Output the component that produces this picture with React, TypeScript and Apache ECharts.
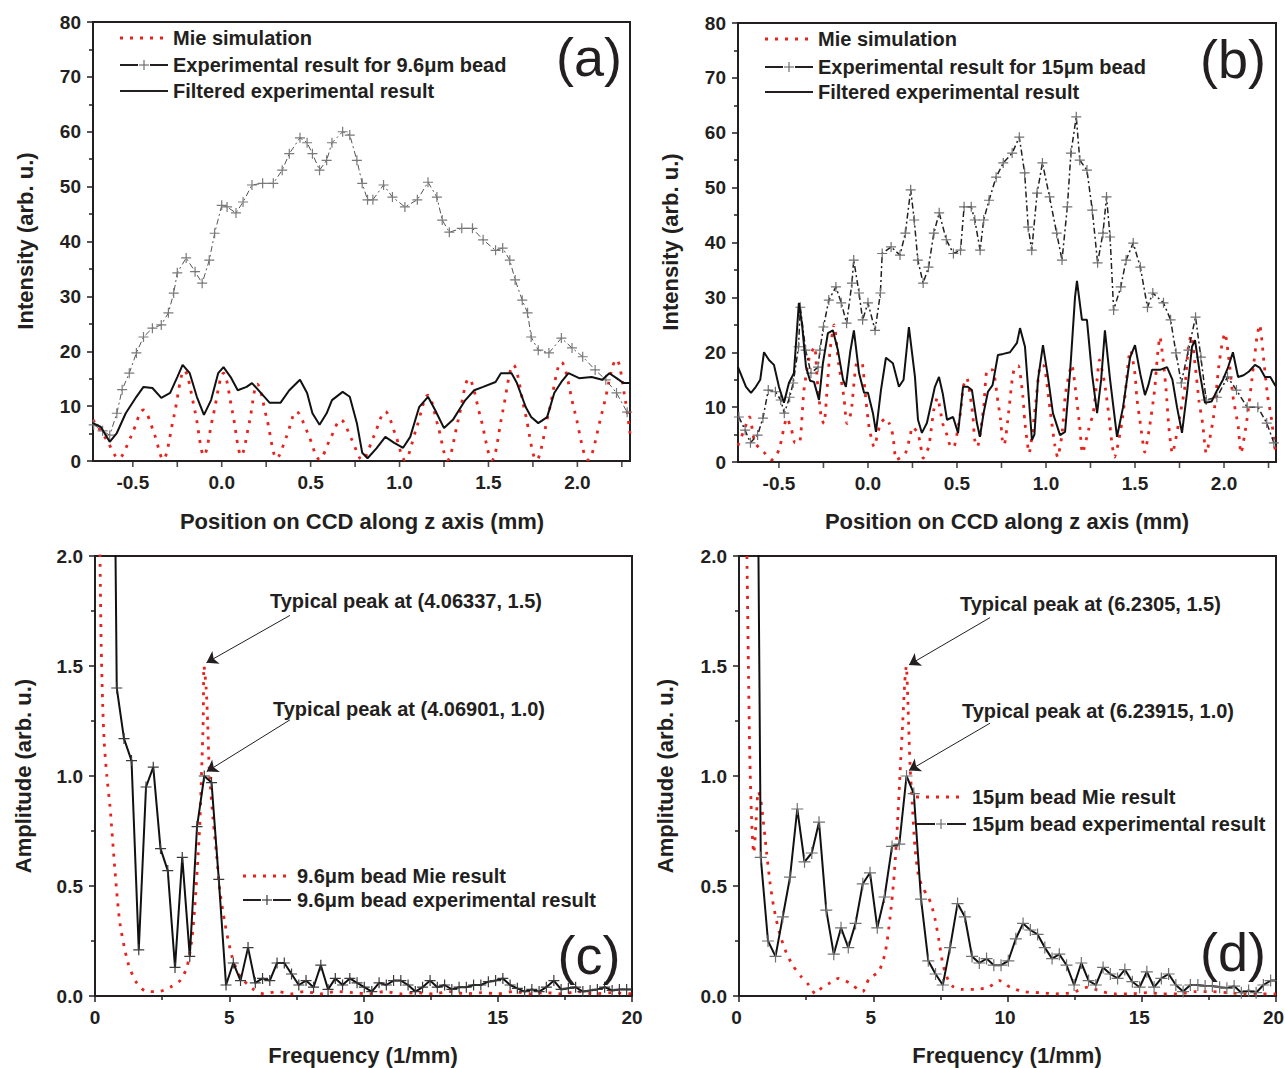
import React, { useEffect, useRef } from "react";
import * as echarts from "echarts";

const FONT = "'Liberation Sans', Arial, Helvetica, sans-serif";
const INK = "#231f20";
const RED = "#e8231d";
const GRAY = "#707070";
const PLUS = "path://M0,5L10,5M5,0L5,10";

// ---------- Panel (a): 9.6 um bead, intensity vs position (mm) ----------
const A_MIE: number[][] = [
  [-0.724, 7.5], [-0.65, 4], [-0.58, 0.5], [-0.51, 4.5], [-0.44, 9.3], [-0.38, 5], [-0.33, 0.3],
  [-0.27, 8], [-0.21, 16.5], [-0.15, 9], [-0.1, 1], [-0.05, 8], [0.01, 16], [0.06, 9], [0.11, 1],
  [0.155, 7], [0.2, 14], [0.255, 7.5], [0.31, 0.5], [0.365, 4.5], [0.42, 9], [0.485, 5], [0.55, 0.3],
  [0.61, 4], [0.67, 7.5], [0.73, 4], [0.79, 0.2], [0.855, 4.5], [0.92, 9], [0.975, 5], [1.03, 0.2],
  [1.095, 6], [1.16, 12], [1.215, 6.5], [1.27, 0.2], [1.33, 7.5], [1.39, 15], [1.455, 8], [1.52, 0.2],
  [1.58, 9], [1.64, 17.5], [1.705, 9], [1.77, 0.2], [1.84, 9], [1.91, 18], [1.985, 9], [2.06, 0.2],
  [2.14, 9], [2.22, 18.5], [2.27, 11], [2.296, 5],
];
const A_EXP: number[][] = [
  [-0.72, 6.6], [-0.67, 5.5], [-0.63, 4.7], [-0.59, 8.7], [-0.56, 13], [-0.52, 16], [-0.48, 19.7],
  [-0.44, 22.6], [-0.39, 24.2], [-0.34, 24.8], [-0.3, 27], [-0.27, 30.6], [-0.25, 34.3], [-0.2, 37],
  [-0.15, 34.5], [-0.11, 32.4], [-0.07, 36.6], [-0.04, 41.5], [0, 46.6], [0.03, 46.3], [0.08, 45.2],
  [0.12, 47.2], [0.17, 50.3], [0.23, 50.6], [0.29, 50.6], [0.34, 53], [0.38, 56], [0.44, 58.9],
  [0.48, 58], [0.51, 56], [0.55, 53], [0.59, 54.8], [0.62, 58], [0.68, 60], [0.72, 59.4], [0.76, 54.8],
  [0.79, 50.6], [0.82, 47.6], [0.85, 47.6], [0.91, 50.3], [0.96, 48.1], [1.03, 46.3], [1.1, 47.6],
  [1.16, 50.8], [1.21, 48.1], [1.24, 43.9], [1.28, 41.7], [1.35, 42.4], [1.41, 42.4], [1.47, 40.3],
  [1.54, 38.4], [1.58, 38.8], [1.62, 36.6], [1.65, 33], [1.69, 29.3], [1.72, 27], [1.74, 22.6],
  [1.78, 20.2], [1.84, 19.7], [1.91, 22.4], [1.97, 20.6], [2.03, 19], [2.1, 16.6], [2.16, 14.8],
  [2.22, 12.4], [2.28, 8.9],
];
const A_FILT: number[][] = [
  [-0.724, 6.9], [-0.68, 6.2], [-0.63, 3.5], [-0.59, 5.1], [-0.54, 8.7], [-0.48, 11.7], [-0.44, 13.5],
  [-0.39, 13.3], [-0.34, 11.5], [-0.29, 12.4], [-0.25, 15.3], [-0.22, 17.5], [-0.18, 16], [-0.14, 11.7],
  [-0.1, 8.4], [-0.06, 11.1], [-0.02, 16], [0.01, 17.1], [0.05, 15.3], [0.09, 12.9], [0.14, 13.5],
  [0.17, 14.2], [0.22, 12.4], [0.27, 10.6], [0.33, 10.6], [0.38, 12.9], [0.44, 14.8], [0.48, 12.4],
  [0.51, 8.7], [0.55, 6.6], [0.59, 8.7], [0.62, 11.1], [0.68, 12.6], [0.72, 11.7], [0.76, 6.9],
  [0.79, 1.5], [0.82, 0.5], [0.87, 2.3], [0.92, 4.4], [0.97, 3.3], [1.02, 2.4], [1.06, 4.4], [1.11, 9.8],
  [1.16, 11.7], [1.2, 9.3], [1.25, 6], [1.3, 7.5], [1.37, 11.1], [1.42, 12.9], [1.47, 13.5], [1.54, 14.4],
  [1.57, 16], [1.63, 16], [1.66, 14.2], [1.71, 9.8], [1.74, 8], [1.78, 6.9], [1.83, 8], [1.87, 12.4],
  [1.91, 14.4], [1.95, 16], [2.01, 15.1], [2.08, 15.3], [2.14, 14.8], [2.18, 16], [2.22, 15.1],
  [2.26, 14.2], [2.296, 14.2],
];

// ---------- Panel (b): 15 um bead ----------
const B_MIE: number[][] = [
  [-0.73, 3], [-0.7, 5.5], [-0.665, 8.2], [-0.635, 3.5], [-0.585, 1.8], [-0.54, 0.4], [-0.5, 2.2],
  [-0.455, 8], [-0.43, 6], [-0.41, 3.5], [-0.385, 3.5], [-0.36, 13], [-0.33, 19], [-0.3, 21],
  [-0.285, 15], [-0.262, 8], [-0.247, 7], [-0.23, 13], [-0.213, 20.4], [-0.19, 25], [-0.165, 18],
  [-0.135, 11.8], [-0.118, 7], [-0.095, 9], [-0.062, 18], [-0.034, 18], [-0.017, 13], [0.006, 6.4],
  [0.034, 2.8], [0.07, 7], [0.1, 8], [0.12, 7], [0.14, 4.9], [0.16, 0.4], [0.21, 1.6], [0.236, 4.6],
  [0.25, 6.4], [0.28, 5.3], [0.295, 3.1], [0.31, 0.7], [0.34, 2.6], [0.35, 4.6], [0.37, 9.5],
  [0.39, 11.7], [0.42, 7], [0.44, 5.3], [0.46, 3.1], [0.48, 2.6], [0.52, 9.1], [0.535, 13.7],
  [0.555, 15.3], [0.58, 10.8], [0.59, 8.2], [0.6, 4], [0.615, 2.8], [0.65, 10], [0.67, 16.8],
  [0.7, 16.8], [0.73, 11], [0.745, 7.7], [0.755, 4], [0.765, 3.1], [0.79, 9], [0.81, 15], [0.825, 17.3],
  [0.845, 17.5], [0.87, 12], [0.88, 7.7], [0.895, 3.5], [0.905, 1.6], [0.94, 10], [0.97, 17.7],
  [0.99, 17.5], [1.01, 13], [1.03, 7.7], [1.05, 3], [1.065, 0.9], [1.09, 5], [1.11, 12.6], [1.145, 17.7],
  [1.17, 12], [1.19, 6.4], [1.205, 1.6], [1.24, 6], [1.265, 8.9], [1.287, 15], [1.3, 18.6], [1.32, 16],
  [1.335, 13.1], [1.355, 8], [1.37, 3.5], [1.385, 0.9], [1.43, 8], [1.465, 19], [1.475, 20.4], [1.5, 16],
  [1.51, 11.8], [1.53, 7], [1.555, 1.8], [1.58, 6], [1.61, 13.1], [1.625, 19], [1.64, 22.8], [1.66, 18],
  [1.675, 13], [1.69, 6.4], [1.71, 1.6], [1.75, 8], [1.78, 13.7], [1.8, 21], [1.815, 23.1], [1.84, 17],
  [1.86, 11], [1.88, 7], [1.9, 1.6], [1.94, 8], [1.97, 17.3], [1.99, 21.7], [2.005, 23.5], [2.03, 18],
  [2.05, 12], [2.08, 6.4], [2.095, 1.6], [2.13, 8], [2.165, 17.3], [2.185, 22.8], [2.2, 25], [2.225, 18],
  [2.245, 12], [2.265, 8.2], [2.285, 2.8], [2.292, 1.5],
];
const B_EXP: number[][] = [
  [-0.725, 8.2], [-0.69, 5.8], [-0.66, 3.5], [-0.62, 4.9], [-0.59, 8], [-0.56, 13.1], [-0.52, 12.8],
  [-0.49, 11.3], [-0.47, 8.9], [-0.44, 11.8], [-0.42, 14.4], [-0.39, 21], [-0.38, 28.2], [-0.35, 20.4],
  [-0.32, 16.2], [-0.28, 17.3], [-0.27, 20.4], [-0.25, 24.6], [-0.22, 29.5], [-0.18, 31.9], [-0.15, 29],
  [-0.12, 25.3], [-0.09, 32.6], [-0.08, 36.8], [-0.05, 30.8], [-0.03, 25.9], [0, 29], [0.04, 24],
  [0.07, 30.8], [0.08, 38], [0.13, 39.2], [0.18, 37.7], [0.21, 41.7], [0.24, 49.6], [0.26, 44.1],
  [0.28, 36.8], [0.31, 32.6], [0.34, 35.5], [0.37, 41.7], [0.4, 45.4], [0.44, 40.5], [0.48, 38],
  [0.52, 38.6], [0.54, 46.5], [0.58, 46.5], [0.6, 44.1], [0.63, 38.6], [0.65, 44.1], [0.68, 47.7],
  [0.72, 51.9], [0.76, 54.5], [0.81, 56.3], [0.85, 59.2], [0.88, 52.7], [0.9, 42.8], [0.92, 38.6],
  [0.95, 49], [0.98, 54.5], [1.02, 48.3], [1.06, 41.7], [1.09, 36.8], [1.12, 46.5], [1.14, 56.3],
  [1.17, 62.9], [1.19, 55], [1.23, 53.2], [1.26, 45.9], [1.29, 36.3], [1.32, 41.7], [1.34, 48.3],
  [1.36, 41], [1.38, 27.7], [1.42, 31.9], [1.45, 36.8], [1.49, 39.9], [1.53, 35.5], [1.57, 28.2],
  [1.6, 30.8], [1.66, 29], [1.7, 25.9], [1.73, 19.9], [1.76, 14.4], [1.8, 20.4], [1.84, 26.4],
  [1.87, 19.1], [1.9, 11.3], [1.96, 11.8], [2.02, 15.5], [2.07, 13.1], [2.13, 10], [2.19, 10],
  [2.24, 7.1], [2.28, 3.5],
];
const B_FILT: number[][] = [
  [-0.73, 17.3], [-0.685, 13.7], [-0.657, 12.6], [-0.63, 13.7], [-0.605, 15], [-0.584, 20], [-0.556, 18.6],
  [-0.528, 17.7], [-0.5, 13.7], [-0.472, 10.8], [-0.444, 14.4], [-0.416, 16.2], [-0.388, 29], [-0.37, 25],
  [-0.348, 17.3], [-0.325, 14.8], [-0.303, 14.6], [-0.275, 11.3], [-0.253, 18], [-0.225, 23.5],
  [-0.197, 24], [-0.169, 20.4], [-0.14, 15], [-0.124, 13.7], [-0.1, 20], [-0.079, 24], [-0.05, 16.2],
  [-0.022, 12.6], [0, 12.6], [0.028, 8.9], [0.045, 5.5], [0.073, 13.1], [0.101, 19], [0.14, 18],
  [0.174, 13.7], [0.2, 15], [0.23, 24.6], [0.264, 15.5], [0.281, 7.7], [0.303, 5.3], [0.331, 7.1],
  [0.376, 13.7], [0.399, 15.5], [0.42, 12.5], [0.444, 7.7], [0.478, 8.2], [0.506, 5.3], [0.534, 13.7],
  [0.56, 13.7], [0.584, 13.1], [0.612, 7.1], [0.629, 4.6], [0.65, 9], [0.674, 12.8], [0.7, 14],
  [0.73, 19.5], [0.76, 19.7], [0.798, 20], [0.837, 21.7], [0.854, 24.4], [0.882, 21], [0.899, 13.7],
  [0.921, 4], [0.935, 5], [0.955, 15], [0.983, 21.3], [1.011, 15.5], [1.039, 8.9], [1.079, 4.9],
  [1.107, 5.5], [1.135, 16.2], [1.163, 30], [1.174, 33], [1.202, 25.9], [1.23, 25.9], [1.258, 16.2],
  [1.287, 8.9], [1.31, 15], [1.331, 24], [1.36, 15], [1.399, 4.6], [1.433, 10], [1.472, 19], [1.5, 21.3],
  [1.53, 16], [1.556, 12.2], [1.575, 14], [1.596, 16.8], [1.64, 16.8], [1.68, 17.3], [1.71, 15],
  [1.736, 10], [1.764, 5.3], [1.792, 12.6], [1.82, 21], [1.837, 22.2], [1.865, 16], [1.893, 10.8],
  [1.93, 11], [1.96, 13], [1.994, 15], [2.02, 17], [2.05, 20], [2.079, 15.5], [2.11, 15.8], [2.14, 16.5],
  [2.174, 17.7], [2.2, 17.2], [2.23, 15.5], [2.26, 15.5], [2.287, 14], [2.292, 13.8],
];

// ---------- Panels (c) and (d): spectra, shared frequency grid (1/mm) ----------
const FREQ = [
  0.54, 0.81, 1.08, 1.36, 1.63, 1.9, 2.17, 2.44, 2.71, 2.98, 3.25, 3.53, 3.8, 4.07, 4.34, 4.61, 4.88,
  5.15, 5.42, 5.7, 5.97, 6.24, 6.51, 6.78, 7.05, 7.32, 7.59, 7.86, 8.14, 8.41, 8.68, 8.95, 9.22, 9.49,
  9.76, 10.03, 10.31, 10.58, 10.85, 11.12, 11.39, 11.66, 11.93, 12.2, 12.48, 12.75, 13.02, 13.29, 13.56,
  13.83, 14.1, 14.37, 14.65, 14.92, 15.19, 15.46, 15.73, 16.0, 16.27, 16.54, 16.81, 17.09, 17.36, 17.63,
  17.9, 18.17, 18.44, 18.71, 18.98, 19.26, 19.53, 19.8, 20.07,
];
const C_EXP = [
  5, 1.4, 1.17, 1.07, 0.21, 0.95, 1.04, 0.67, 0.57, 0.13, 0.63, 0.18, 0.77, 1.0, 0.97, 0.53, 0.05,
  0.15, 0.07, 0.22, 0.06, 0.08, 0.07, 0.15, 0.15, 0.1, 0.05, 0.07, 0.04, 0.14, 0.03, 0.08, 0.05, 0.08,
  0.06, 0.04, 0.02, 0.06, 0.05, 0.07, 0.07, 0.05, 0.02, 0.04, 0.07, 0.04, 0.05, 0.03, 0.04, 0.04, 0.05,
  0.05, 0.065, 0.07, 0.08, 0.05, 0.035, 0.02, 0.03, 0.02, 0.04, 0.07, 0.03, 0.035, 0.04, 0.02, 0.025,
  0.03, 0.04, 0.025, 0.03, 0.03, 0.03,
];
const D_EXP = [
  5, 0.63, 0.25, 0.18, 0.36, 0.54, 0.85, 0.61, 0.65, 0.79, 0.39, 0.19, 0.31, 0.22, 0.33, 0.51, 0.56,
  0.31, 0.45, 0.68, 0.69, 1.0, 0.92, 0.44, 0.16, 0.1, 0.05, 0.22, 0.42, 0.36, 0.18, 0.15, 0.17, 0.14,
  0.14, 0.16, 0.26, 0.33, 0.3, 0.28, 0.22, 0.17, 0.19, 0.14, 0.05, 0.15, 0.07, 0.05, 0.13, 0.1, 0.08,
  0.12, 0.065, 0.04, 0.11, 0.04, 0.08, 0.1, 0.05, 0.02, 0.05, 0.05, 0.045, 0.045, 0.04, 0.035, 0.045,
  0.015, 0.025, 0.015, 0.05, 0.07, 0.07,
];
const C_MIE: number[][] = [
  [0.12, 2.6], [0.19, 1.96], [0.23, 1.6], [0.28, 1.35], [0.34, 1.16], [0.44, 1.0], [0.56, 0.86],
  [0.75, 0.56], [0.93, 0.33], [1.23, 0.15], [1.55, 0.06], [1.93, 0.02], [2.36, 0.02], [2.8, 0.04],
  [3.17, 0.07], [3.42, 0.13], [3.6, 0.25], [3.72, 0.41], [3.84, 0.64], [3.91, 0.8], [3.97, 1.02],
  [4.03, 1.25], [4.06, 1.5], [4.14, 1.4], [4.2, 1.23], [4.26, 1.02], [4.4, 0.8], [4.53, 0.64],
  [4.65, 0.48], [4.84, 0.33], [5.1, 0.18], [5.4, 0.09], [5.9, 0.03], [6.3, 0.01], [6.8, 0.02],
  [7.3, 0.01], [7.8, 0.02], [8.4, 0.01], [9.0, 0.02], [9.6, 0.015], [10.2, 0.01], [10.8, 0.02],
  [11.4, 0.01], [12.0, 0.015], [12.6, 0.01], [13.2, 0.02], [13.8, 0.01], [14.4, 0.015], [15.0, 0.01],
  [15.6, 0.02], [16.2, 0.01], [16.8, 0.015], [17.4, 0.01], [18.0, 0.02], [18.6, 0.01], [19.2, 0.015],
  [20, 0.01],
];
const D_MIE: number[][] = [
  [0.22, 2.5], [0.3, 1.95], [0.35, 1.5], [0.4, 1.1], [0.47, 0.8], [0.55, 0.65], [0.63, 0.78],
  [0.72, 0.93], [0.8, 0.9], [0.9, 0.8], [1.03, 0.65], [1.15, 0.52], [1.3, 0.4], [1.5, 0.29],
  [1.75, 0.2], [2.0, 0.14], [2.3, 0.09], [2.6, 0.05], [2.85, 0.01], [3.1, 0.04], [3.4, 0.06],
  [3.7, 0.08], [4.1, 0.06], [4.6, 0.02], [4.85, 0.08], [5.2, 0.11], [5.45, 0.2], [5.62, 0.35],
  [5.78, 0.55], [5.9, 0.78], [6.0, 1.02], [6.1, 1.25], [6.17, 1.42], [6.23, 1.5], [6.3, 1.3],
  [6.37, 1.05], [6.45, 0.88], [6.55, 0.68], [6.68, 0.55], [6.85, 0.49], [7.0, 0.46], [7.15, 0.42],
  [7.3, 0.35], [7.45, 0.25], [7.6, 0.14], [7.8, 0.07], [8.0, 0.04], [8.3, 0.03], [8.8, 0.03],
  [9.3, 0.04], [9.7, 0.07], [10.1, 0.04], [10.6, 0.02], [11.2, 0.015], [11.8, 0.01], [12.4, 0.015],
  [13.0, 0.04], [13.5, 0.02], [14.0, 0.01], [14.6, 0.01], [15.2, 0.015], [15.8, 0.01], [16.4, 0.01],
  [17.0, 0.02], [17.6, 0.02], [18.2, 0.015], [18.8, 0.01], [19.4, 0.01], [20, 0.01],
];

// annotation arrows (data coordinates: start near text, end at peak)
const C_ARROWS: number[][][] = [
  [[7.26, 1.73], [4.15, 1.515]],
  [[7.26, 1.255], [4.16, 1.02]],
];
const D_ARROWS: number[][][] = [
  [[9.35, 1.72], [6.33, 1.505]],
  [[9.35, 1.24], [6.33, 1.025]],
];

// custom x ticks for the position axes (every 0.25 mm)
const POS_TICKS = [-0.5, -0.25, 0, 0.25, 0.5, 0.75, 1, 1.25, 1.5, 1.75, 2, 2.25];

const GRIDS = [
  { left: 93, top: 22, width: 537, height: 439 },
  { left: 738, top: 23, width: 538, height: 439 },
  { left: 95, top: 556, width: 537, height: 440 },
  { left: 739, top: 556, width: 537, height: 440 },
];
const X_RANGES = [
  [-0.724, 2.296],
  [-0.73, 2.292],
  [0, 20],
  [0, 20],
];

const labelStyle = { color: INK, fontFamily: FONT, fontWeight: "bold" as const, fontSize: 19 };
const axisLine = { show: true, onZero: false, lineStyle: { color: INK, width: 2 } };

function txt(x: number, y: number, text: string, size: number, opts: any = {}) {
  return {
    type: "text",
    x,
    y,
    rotation: opts.rotation || 0,
    silent: true,
    z: 100,
    style: {
      text,
      fill: INK,
      font: `${opts.weight || "bold"} ${size}px ${FONT}`,
      textAlign: opts.align || "left",
      textVerticalAlign: "middle",
    },
  };
}
function seg(x1: number, y1: number, x2: number, y2: number, stroke: string, width: number, dash?: number[]) {
  return {
    type: "line",
    silent: true,
    z: 100,
    shape: { x1, y1, x2, y2 },
    style: { stroke, lineWidth: width, lineDash: dash || null },
  };
}
function expSample(x1: number, x2: number, y: number, plusColor: string) {
  const mid = (x1 + x2) / 2;
  return [
    seg(x1, y, mid - 6, y, INK, 2),
    seg(mid + 6, y, x2, y, INK, 2),
    seg(mid - 5, y, mid + 5, y, plusColor, 1.2),
    seg(mid, y - 5, mid, y + 5, plusColor, 1.2),
  ];
}

function buildOption() {
  const xAxis = GRIDS.map((_, i) => {
    const pos = i < 2;
    return {
      type: "value",
      gridIndex: i,
      min: X_RANGES[i][0],
      max: X_RANGES[i][1],
      ...(pos ? { splitNumber: 6 } : { interval: 5 }),
      axisLine,
      axisTick: pos ? { show: false } : { show: true, inside: false, length: 6, lineStyle: { color: INK, width: 1.5 } },
      minorTick: pos ? { show: false } : { show: true, splitNumber: 2, length: 4, lineStyle: { color: INK, width: 1.5 } },
      splitLine: { show: false },
      axisLabel: {
        ...labelStyle,
        margin: 12,
        showMinLabel: !pos,
        showMaxLabel: !pos,
        padding: i === 3 ? [0, 5, 0, 0] : 0,
        formatter: (v: number) => (pos ? v.toFixed(1) : String(v)),
      },
    };
  });
  const yAxis = GRIDS.map((_, i) => {
    const pos = i < 2;
    return {
      type: "value",
      gridIndex: i,
      min: 0,
      max: pos ? 80 : 2,
      interval: pos ? 10 : 0.5,
      axisLine,
      axisTick: { show: true, inside: false, length: 6, lineStyle: { color: INK, width: 1.5 } },
      minorTick: { show: true, splitNumber: 2, length: 4, lineStyle: { color: INK, width: 1.5 } },
      splitLine: { show: false },
      axisLabel: {
        ...labelStyle,
        margin: 12,
        formatter: (v: number) => (pos ? String(v) : v.toFixed(1)),
      },
    };
  });

  const mie = (idx: number, data: number[][], smooth: number, extra: any = {}) => ({
    type: "line",
    xAxisIndex: idx,
    yAxisIndex: idx,
    data,
    smooth,
    showSymbol: false,
    clip: true,
    lineStyle: { color: RED, width: 2.8, type: [3, 7] },
    z: 2,
    ...extra,
  });
  const exp = (idx: number, data: number[][], size: number, plusColor: string, line: any) => ({
    type: "line",
    xAxisIndex: idx,
    yAxisIndex: idx,
    data,
    symbol: PLUS,
    symbolSize: size,
    showSymbol: true,
    showAllSymbol: true,
    clip: true,
    itemStyle: { color: plusColor, borderColor: plusColor, borderWidth: 1.2 },
    lineStyle: line,
    z: 3,
  });
  const filt = (idx: number, data: number[][]) => ({
    type: "line",
    xAxisIndex: idx,
    yAxisIndex: idx,
    data,
    showSymbol: false,
    clip: true,
    lineStyle: { color: "#111", width: 2 },
    z: 4,
  });
  const ticks = (idx: number) => ({
    type: "scatter",
    xAxisIndex: idx,
    yAxisIndex: idx,
    data: POS_TICKS.map((t) => [t, 0]),
    symbol: "rect",
    symbolSize: [1.6, 6],
    symbolOffset: [0, 3],
    itemStyle: { color: INK },
    silent: true,
    clip: false,
    z: 6,
  });
  const arrows = (pairs: number[][][]) => ({
    silent: true,
    symbol: ["none", "arrow"],
    symbolSize: 11,
    label: { show: false },
    lineStyle: { color: INK, width: 1, type: "solid" },
    data: pairs.map((p) => [{ coord: p[0] }, { coord: p[1] }]),
  });

  const cExp = FREQ.map((f, i) => [f, C_EXP[i]]);
  const dExp = FREQ.map((f, i) => [f, D_EXP[i]]);

  const series = [
    mie(0, A_MIE, 0.35),
    exp(0, A_EXP, 10, "#7a7a7a", { color: "#555", width: 1, type: [6, 3, 2, 3] }),
    filt(0, A_FILT),
    ticks(0),
    mie(1, B_MIE, 0.2),
    exp(1, B_EXP, 10, GRAY, { color: INK, width: 1.5, type: [6, 3, 2, 3] }),
    filt(1, B_FILT),
    ticks(1),
    mie(2, C_MIE, 0.25, { markLine: arrows(C_ARROWS) }),
    exp(2, cExp, 11, "#3a3a3a", { color: "#111", width: 2 }),
    mie(3, D_MIE, 0.25, { markLine: arrows(D_ARROWS) }),
    exp(3, dExp, 12, GRAY, { color: "#111", width: 2 }),
  ];

  const graphic: any[] = [
    // panel (a)
    seg(120, 38, 164, 38, RED, 2.8, [3, 7]),
    txt(173, 38, "Mie simulation", 20),
    ...expSample(120, 168, 65, GRAY),
    txt(173, 65, "Experimental result for 9.6μm bead", 20),
    seg(120, 91, 168, 91, INK, 2),
    txt(173, 91, "Filtered experimental result", 20),
    txt(589, 57, "(a)", 54, { weight: "normal", align: "center" }),
    txt(25, 241, "Intensity (arb. u.)", 22, { rotation: Math.PI / 2, align: "center" }),
    txt(362, 521, "Position on CCD along z axis (mm)", 22, { align: "center" }),
    // panel (b)
    seg(765, 39, 809, 39, RED, 2.8, [3, 7]),
    txt(818, 39, "Mie simulation", 20),
    ...expSample(765, 813, 67, GRAY),
    txt(818, 67, "Experimental result for 15μm bead", 20),
    seg(765, 92, 813, 92, INK, 2),
    txt(818, 92, "Filtered experimental result", 20),
    txt(1233, 59, "(b)", 54, { weight: "normal", align: "center" }),
    txt(670, 242, "Intensity (arb. u.)", 22, { rotation: Math.PI / 2, align: "center" }),
    txt(1007, 521, "Position on CCD along z axis (mm)", 22, { align: "center" }),
    // panel (c)
    txt(270, 601, "Typical peak at (4.06337, 1.5)", 20),
    txt(273, 709, "Typical peak at (4.06901, 1.0)", 20),
    seg(243, 876, 287, 876, RED, 2.8, [3, 7]),
    txt(297, 876, "9.6μm bead Mie result", 20),
    ...expSample(243, 291, 900, "#3a3a3a"),
    txt(297, 900, "9.6μm bead experimental result", 20),
    txt(589, 955, "(c)", 54, { weight: "normal", align: "center" }),
    txt(23, 776, "Amplitude (arb. u.)", 22, { rotation: Math.PI / 2, align: "center" }),
    txt(363, 1055, "Frequency (1/mm)", 22, { align: "center" }),
    // panel (d)
    txt(960, 604, "Typical peak at (6.2305, 1.5)", 20),
    txt(962, 711, "Typical peak at (6.23915, 1.0)", 20),
    seg(916, 797, 962, 797, RED, 2.8, [3, 7]),
    txt(972, 797, "15μm bead Mie result", 20),
    ...expSample(916, 966, 824, GRAY),
    txt(972, 824, "15μm bead experimental result", 20),
    txt(1233, 952, "(d)", 54, { weight: "normal", align: "center" }),
    txt(665, 776, "Amplitude (arb. u.)", 22, { rotation: Math.PI / 2, align: "center" }),
    txt(1007, 1055, "Frequency (1/mm)", 22, { align: "center" }),
  ];

  return {
    animation: false,
    backgroundColor: "#ffffff",
    grid: GRIDS.map((g) => ({
      ...g,
      show: true,
      borderColor: INK,
      borderWidth: 2,
      backgroundColor: "transparent",
      containLabel: false,
      outerBoundsMode: "none",
    })),
    xAxis,
    yAxis,
    series,
    graphic,
  };
}

export default function App() {
  const ref = useRef<HTMLDivElement>(null);
  useEffect(() => {
    if (!ref.current) return;
    const chart = echarts.init(ref.current, null, { renderer: "svg" });
    chart.setOption(buildOption() as any);
    return () => chart.dispose();
  }, []);
  return (
    <div
      ref={ref}
      style={{ position: "fixed", left: 0, top: 0, width: 1285, height: 1068, background: "#fff" }}
    />
  );
}
